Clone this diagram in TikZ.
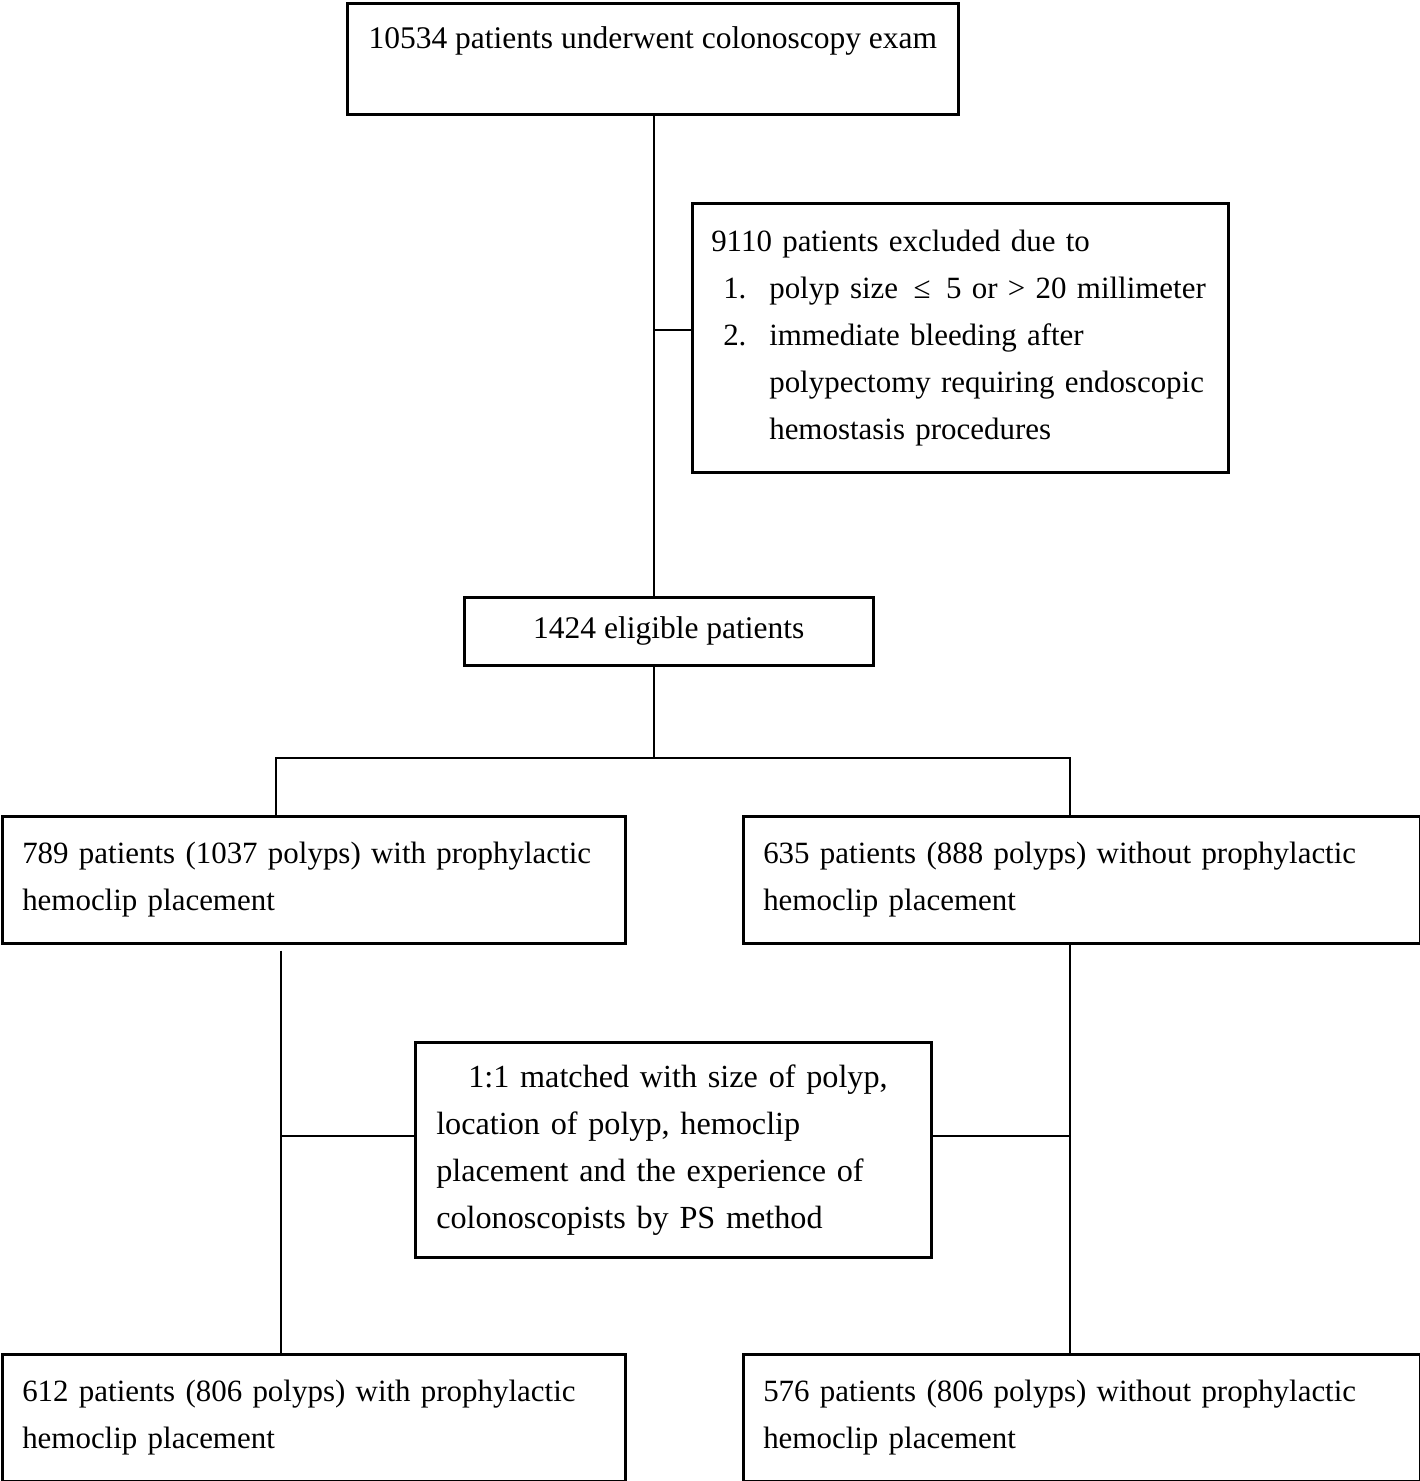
\documentclass[tikz,border=0pt]{standalone}
\usepackage{fontspec}
\setmainfont{Liberation Serif}
\usepackage{tikz}

\begin{document}
\begin{tikzpicture}[ x=0.025cm, y=-0.025cm,
    box/.style={draw, line width=1.8pt, anchor=north west, inner ysep=0pt, font=\fontsize{22.4pt}{33.4pt}\selectfont},
    wide/.style={box, minimum width=15.575cm, minimum height=3.175cm, inner xsep=0.5cm, text width=14.575cm, align=left, font=\fontsize{22pt}{33.4pt}\selectfont},
    wider/.style={wide, minimum width=16.925cm, text width=15.925cm},
    link/.style={line width=1.3pt} ]
    \useasboundingbox (0,0) rectangle (1420,1481);

    % Boxes
    \node[box, minimum width=15.275cm, text height=1.125cm, text depth=1.65cm, inner xsep=0pt] (exam) at (346,2) {10534 patients underwent colonoscopy exam};
    \node[box, minimum width=13.4cm, minimum height=6.725cm, inner xsep=0.475cm, text width=12.45cm, align=left, font=\fontsize{22pt}{33.4pt}\selectfont] (excl) at (691,202) {9110 patients excluded due to\\
      \hspace*{0.3cm}\makebox[1.15cm][l]{1.}polyp size~\,≤\,~5 or > 20 millimeter\\
      \hspace*{0.3cm}\makebox[1.15cm][l]{2.}immediate bleeding after\\
      \hspace*{1.45cm}polypectomy requiring endoscopic\\
      \hspace*{1.45cm}hemostasis procedures};
    \node[box, minimum width=10.225cm, minimum height=1.7cm] (elig) at (463,596) {1424 eligible patients};
    \node[wide] (with) at (1,815) {789 patients (1037 polyps) with prophylactic\\hemoclip placement};
    \node[wider] (without) at (742,815) {635 patients (888 polyps) without prophylactic\\hemoclip placement};
    \node[box, minimum width=12.9cm, minimum height=5.375cm, inner xsep=0.525cm, text width=11.85cm, align=left, font=\fontsize{22.9pt}{33.4pt}\selectfont] (match) at (414,1041) {\hspace*{0.8cm}1:1 matched with size of polyp,\\
      location of polyp, hemoclip\\
      placement and the experience of\\
      colonoscopists by PS method};
    \node[wide] (withPS) at (1,1353) {612 patients (806 polyps) with prophylactic\\hemoclip placement};
    \node[wider] (withoutPS) at (742,1353) {576 patients (806 polyps) without prophylactic\\hemoclip placement};

    % Connectors
    \coordinate (junc) at (654,330);
    \coordinate (split) at (654,758);
    \coordinate (brL) at (276,758);
    \coordinate (brR) at (1070,758);
    \coordinate (colL) at (281,1136);
    \coordinate (colR) at (1070,1136);
    \draw[link] (exam.south -| split) -- (elig.north -| split);
    \draw[link] (junc) -- (junc -| excl.west);
    \draw[link] (elig.south -| split) -- (split);
    \draw[link] (with.north -| brL) -- (brL) -- (brR) -- (without.north -| brR);
    \draw[link] ([yshift=-6*0.025cm]with.south -| colL) -- (withPS.north -| colL);
    \draw[link] (without.south -| colR) -- (withoutPS.north -| colR);
    \draw[link] (colL) -- (colL -| match.west);
    \draw[link] (colR) -- (colR -| match.east);
  \end{tikzpicture}
\end{document}
